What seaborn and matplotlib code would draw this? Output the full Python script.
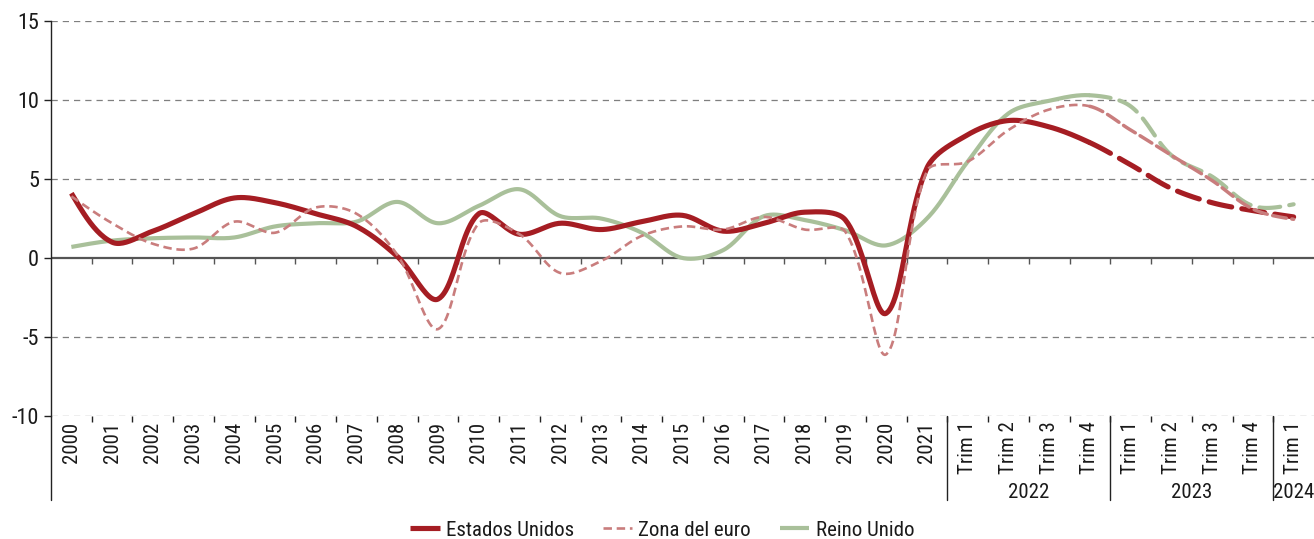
import re
import numpy as np
import pandas as pd
import matplotlib
matplotlib.use("Agg")
import matplotlib.pyplot as plt
import seaborn as sns
from matplotlib.lines import Line2D
from matplotlib import font_manager as fm

# ---------------- data ----------------
years = [str(y) for y in range(2000, 2022)]
quarters = ["Trim 1", "Trim 2", "Trim 3", "Trim 4",
            "Trim 1", "Trim 2", "Trim 3", "Trim 4",
            "Trim 1"]
categories = years + quarters
group_labels = ["2022", "2023", "2024"]
group_sizes = [4, 4, 1]

estados_unidos = [4.1, 1.0, 1.7, 2.8, 3.8, 3.5, 2.8, 2.0, 0.1, -2.6, 2.8, 1.5, 2.2, 1.8, 2.3,
                  2.7, 1.7, 2.2, 2.9, 2.4, -3.5, 5.7,
                  7.8, 8.7, 8.3, 7.3, 5.9, 4.4, 3.5, 3.0, 2.6]
zona_euro = [3.9, 2.2, 0.9, 0.6, 2.3, 1.6, 3.2, 2.8, 0.2, -4.5, 2.2, 1.5, -0.95, -0.2, 1.4,
             2.0, 1.8, 2.6, 1.8, 1.65, -6.1, 5.5,
             6.1, 8.1, 9.4, 9.6, 8.1, 6.5, 4.9, 3.1, 2.45]
reino_unido = [0.7, 1.1, 1.25, 1.3, 1.3, 2.0, 2.2, 2.3, 3.55, 2.2, 3.3, 4.35, 2.65, 2.5, 1.6,
               0.0, 0.5, 2.65, 2.4, 1.75, 0.8, 2.5,
               6.1, 9.15, 9.95, 10.3, 9.6, 6.5, 5.15, 3.3, 3.4]
series_names = ["Estados Unidos", "Zona del euro", "Reino Unido"]
forecast_start = 25  # index of 2022 Trim 4; later segments drawn dashed

# ---------------- style ----------------
sns.set_theme(style="white")
plt.rcParams["font.family"] = ["DejaVu Sans"]


def pick_condensed():
    prefs = ["liberationsansnarrow", "robotocondensed", "notosans", "opensans", "dejavusans", "lato"]
    bad = re.compile(r"bold|italic|oblique|light|thin|medium|black|semi|extra|heavy|mono|serif|display|ui", re.I)
    cands = []
    for f in fm.fontManager.ttflist:
        base = f.fname.split("/")[-1].lower().replace("-", "").replace("_", "").replace(" ", "")
        if ("narrow" in base or "condensed" in base) and not bad.search(base.replace("sansserif", "")):
            rank = next((i for i, p in enumerate(prefs) if base.startswith(p)), len(prefs))
            cands.append((rank, f.fname))
    if cands:
        cands.sort()
        return cands[0][1]
    return None


FS = 15
_fpath = pick_condensed()


def fp(size=FS):
    if _fpath:
        return fm.FontProperties(fname=_fpath, size=size)
    return fm.FontProperties(family="DejaVu Sans", stretch="condensed", size=size * 0.85)


C_US = "#A51D23"
C_EU = "#C97D7D"
C_UK = "#A9C09A"
C_GRID = "#7F7F7F"
C_ZERO = "#555555"
TXT = "#1a1a1a"

XPX, YPX = 40.8, 15.8  # screen scale used for length-weighted smoothing


def smooth(values, n=24, tension=1 / 3):
    """Smoothed curve through the points (length-weighted Bezier, like office charts)."""
    y = np.asarray(values, float)
    x = np.arange(len(y), dtype=float)
    P = np.column_stack([x, y])
    S = P * np.array([XPX, YPX])
    m = len(P)
    cin = P.copy(); cout = P.copy()
    for i in range(m):
        if i == 0 or i == m - 1:
            continue
        d0 = np.linalg.norm(S[i] - S[i - 1]); d1 = np.linalg.norm(S[i + 1] - S[i])
        T = P[i + 1] - P[i - 1]
        cin[i] = P[i] - T * d0 / (d0 + d1) * tension
        cout[i] = P[i] + T * d1 / (d0 + d1) * tension
    cout[0] = P[0] + (cin[1] - P[0]) * 0.5
    cin[m - 1] = P[m - 1] + (cout[m - 2] - P[m - 1]) * 0.5
    xs, ys, ts = [], [], []
    for i in range(m - 1):
        p1, b1, b2, p2 = P[i], cout[i], cin[i + 1], P[i + 1]
        t = np.linspace(0, 1, n, endpoint=(i == m - 2))
        c = ((1 - t) ** 3)[:, None] * p1 + (3 * (1 - t) ** 2 * t)[:, None] * b1 \
            + (3 * (1 - t) * t ** 2)[:, None] * b2 + (t ** 3)[:, None] * p2
        xs.append(c[:, 0]); ys.append(c[:, 1]); ts.append(i + t)
    return np.concatenate(xs), np.concatenate(ys), np.concatenate(ts)


W, H = 1314, 539
fig = plt.figure(figsize=(W / 100, H / 100), dpi=100)
left_px, right_px, top_px, bot_px = 51, 1314, 21, 416
ax = fig.add_axes([left_px / W, 1 - bot_px / H, (right_px - left_px) / W, (bot_px - top_px) / H])

n = len(categories)
ax.set_xlim(-0.5, n - 0.5)
ax.set_ylim(-10, 15)

for yv in [-10, -5, 5, 10, 15]:
    ax.axhline(yv, color=C_GRID, lw=0.9, ls=(0, (5, 4)), zorder=1)
ax.axhline(0, color=C_ZERO, lw=1.6, zorder=2)
bounds = np.arange(0.5, n - 0.5, 1.0)
ax.vlines(bounds, -0.38, 0, color=C_ZERO, lw=1.0, zorder=2)


def draw(vals, col, lw, dash_hist, lw_fc, dash_fc, z):
    sx, sy, st = smooth(vals)
    df = pd.DataFrame({"x": sx, "y": sy, "t": st})
    a = df[df.t <= forecast_start]
    b = df[df.t >= forecast_start]
    kw = dict(x="x", y="y", ax=ax, color=col, sort=False, estimator=None, zorder=z)
    if dash_hist is None:
        sns.lineplot(data=a, lw=lw, solid_capstyle="butt", **kw)
    else:
        sns.lineplot(data=a, lw=lw, linestyle=dash_hist, **kw)
    sns.lineplot(data=b, lw=lw_fc, linestyle=dash_fc, dash_capstyle="round", **kw)


draw(reino_unido, C_UK, 3.0, None, 3.0, (0, (5.0, 2.2)), 3)
draw(estados_unidos, C_US, 3.7, None, 3.7, (0, (4.5, 2.0)), 4)
draw(zona_euro, C_EU, 1.9, (0, (3.2, 1.8)), 2.5, (0, (4.0, 1.6)), 5)

for s in ["top", "right", "bottom"]:
    ax.spines[s].set_visible(False)
ax.spines["left"].set_color("#222222")
ax.spines["left"].set_linewidth(1.0)
ax.set_xlabel("")
ax.set_ylabel("")

ax.set_yticks([-10, -5, 0, 5, 10, 15])
ax.set_yticklabels(["-10", "-5", "0", "5", "10", "15"])
ax.tick_params(axis="y", which="major", direction="out", length=5, width=1.0, color="#222222",
               pad=3.5, labelcolor=TXT, left=True)
for lab in ax.get_yticklabels():
    lab.set_fontproperties(fp(16))

ax.set_xticks(np.arange(n))
ax.set_xticklabels(categories, rotation=90, color=TXT)
ax.tick_params(axis="x", which="major", length=0, pad=4, bottom=True)
ax.set_xticks(bounds, minor=True)
ax.tick_params(axis="x", which="minor", direction="out", length=4, width=1.0, color="#222222",
               bottom=True)
for lab in ax.get_xticklabels():
    lab.set_fontproperties(fp())
    lab.set_va("top")

trans = ax.get_xaxis_transform()
hpx = bot_px - top_px
ext = -84 / hpx
ax.plot([-0.5, -0.5], [0, ext], transform=trans, color="#222222", lw=1.0, clip_on=False)
start = len(years)
edges = [start - 0.5]
for size in group_sizes:
    edges.append(edges[-1] + size)
for e in edges[:-1]:
    ax.plot([e, e], [0, ext], transform=trans, color="#222222", lw=1.0, clip_on=False)
pos = start
for lab, size in zip(group_labels, group_sizes):
    cx = pos + (size - 1) / 2
    ax.text(cx, -77 / hpx, lab, transform=trans, ha="center", va="center",
            fontproperties=fp(), color=TXT)
    pos += size

handles = [
    Line2D([], [], color=C_US, lw=3.7, solid_capstyle="butt"),
    Line2D([], [], color=C_EU, lw=1.9, ls=(0, (3.2, 1.8))),
    Line2D([], [], color=C_UK, lw=3.0, solid_capstyle="butt"),
]
fig.legend(handles, series_names, loc="center", bbox_to_anchor=(0.504, 1 - 530 / H), ncol=3,
           frameon=False, prop=fp(), handlelength=1.4, handletextpad=0.3, columnspacing=1.4,
           borderaxespad=0, labelcolor=TXT)

fig.savefig("out.png", dpi=100)
